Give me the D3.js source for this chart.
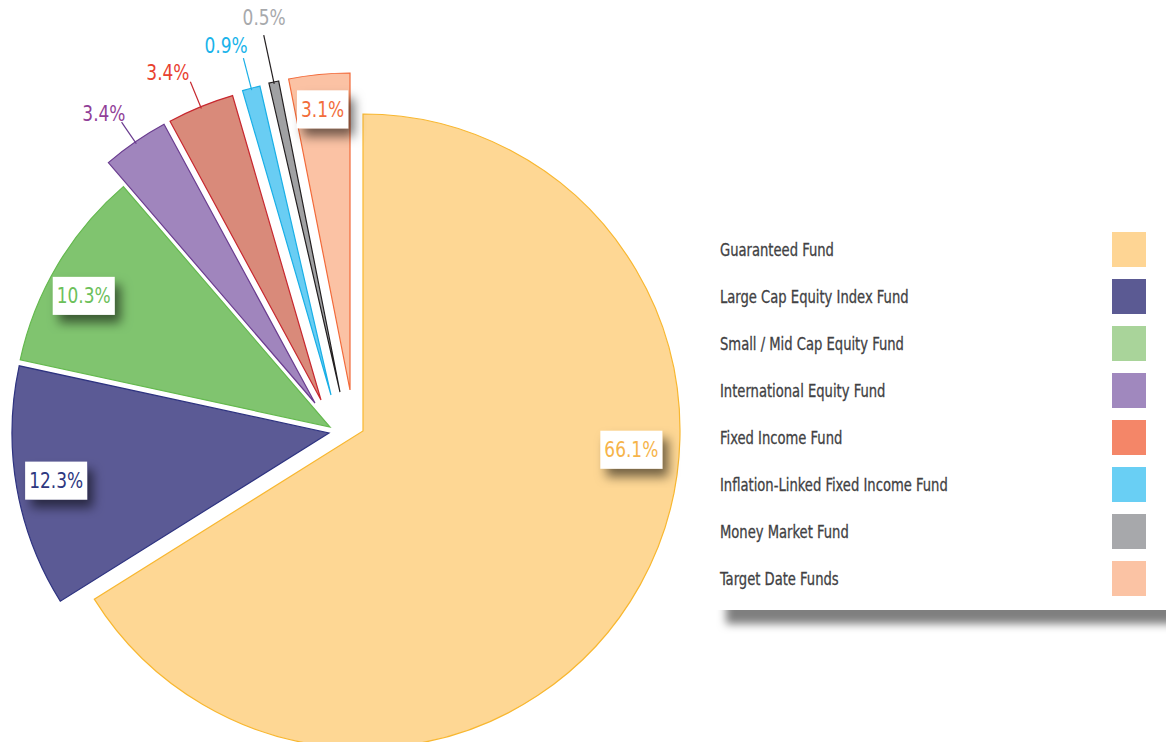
<!DOCTYPE html>
<html>
<head>
<meta charset="utf-8">
<script src="https://cdn.jsdelivr.net/npm/d3@7"></script>
<style>
  html, body { margin: 0; padding: 0; background: #ffffff; }
  svg { display: block; font-family: 'Liberation Sans Narrow', 'Arial Narrow', 'DejaVu Sans Condensed', sans-serif; }
</style>
</head>
<body>
<svg id="chart" width="1166" height="742"></svg>
<script>
// Fund names and their share of assets (%)
const funds = [
  "Guaranteed Fund",
  "Large Cap Equity Index Fund",
  "Small / Mid Cap Equity Fund",
  "International Equity Fund",
  "Fixed Income Fund",
  "Inflation-Linked Fixed Income Fund",
  "Money Market Fund",
  "Target Date Funds"
];
const shares = [66.1, 12.3, 10.3, 3.4, 3.4, 0.9, 0.5, 3.1];

// Colours
const sliceFill   = ["#fed794", "#5b5a95", "#80c46f", "#a085bd", "#d98a7a", "#69cdf3", "#a0a1a3", "#fbc2a4"];
const sliceStroke = ["#f8b730", "#2e3380", "#64b94e", "#6a3c8f", "#c7282f", "#1aafe6", "#231f20", "#f26a3a"];
const labelColor  = ["#f6b44a", "#2e3780", "#6cc05a", "#913f98", "#e8412f", "#19b3ea", "#a7a9ac", "#f26d3b"];
const legendFill  = ["#fed594", "#5b5a93", "#a9d49a", "#a088be", "#f48668", "#69cff4", "#a7a8ab", "#fbc3a4"];

// Layout
const W = 1166, H = 742;
const cx = 363, cy = 431, R = 317;
// per-slice pull-out from the pie centre
const pullOut = [[0, 0], [-34, 2], [-33, -4], [-48, -28], [-42, -31], [-32, -36], [-23, -39], [-13, -41]];
// boxed labels sit inside the slice, the rest outside with a leader line
const boxed     = [true, true, true, false, false, false, false, true];
const labelFrac = [0.395, 0.5, 0.426, 0.5, 0.5, 0.5, 0.5, 0.5];
const labelR    = [269, 277, 279, 358, 361, 365, 382, 282];
const labelNudge = [[0, 0], [0, 0], [0, 0], [-8, 5], [-16, 7], [-13, 4], [4, -1], [0, 0]];
// condensed look for the available sans font
const legendSquash = 0.79, labelSquash = 0.9;

const svg = d3.select("#chart");
const defs = svg.append("defs");

const boxShadow = defs.append("filter").attr("id", "boxShadow")
  .attr("x", "-50%").attr("y", "-50%").attr("width", "200%").attr("height", "200%");
boxShadow.append("feDropShadow").attr("dx", 6).attr("dy", 8).attr("stdDeviation", 5.5)
  .attr("flood-color", "#000").attr("flood-opacity", 0.55);

const panelShadow = defs.append("filter").attr("id", "panelShadow")
  .attr("x", "-10%").attr("y", "-10%").attr("width", "130%").attr("height", "130%");
panelShadow.append("feDropShadow").attr("dx", 10).attr("dy", 14).attr("stdDeviation", 4.5)
  .attr("flood-color", "#000").attr("flood-opacity", 0.5);

// ---- Legend panel ----
const legend = svg.append("g");
legend.append("rect")
  .attr("x", 716).attr("y", 200).attr("width", 480).attr("height", 410)
  .attr("fill", "#fff").attr("filter", "url(#panelShadow)");

const rowY = d3.scalePoint().domain(d3.range(funds.length)).range([249.5, 578.5]);
const rows = legend.selectAll("g.row").data(funds).join("g").attr("class", "row");
rows.append("g")
  .attr("transform", (d, i) => `translate(720,${rowY(i)}) scale(${legendSquash},1)`)
  .append("text")
  .attr("dominant-baseline", "central")
  .attr("font-size", 18.5)
  .attr("fill", "#414143")
  .attr("stroke", "#414143")
  .attr("stroke-width", 0.3)
  .text(d => d);
rows.append("rect")
  .attr("x", 1112).attr("y", (d, i) => rowY(i) - 17.5)
  .attr("width", 34).attr("height", 35)
  .attr("fill", (d, i) => legendFill[i]);

// ---- Pie ----
const pie = d3.pie().sort(null).value(d => d).startAngle(0).endAngle(2 * Math.PI);
const arcs = pie(shares);
const arc = d3.arc().innerRadius(0).outerRadius(R);
const polar = (a, r) => [r * Math.sin(a), -r * Math.cos(a)];

const slices = svg.append("g").selectAll("g.slice").data(arcs).join("g")
  .attr("class", "slice")
  .attr("transform", (d, i) => `translate(${cx + pullOut[i][0]},${cy + pullOut[i][1]})`);

slices.append("path")
  .attr("d", arc)
  .attr("fill", (d, i) => sliceFill[i])
  .attr("stroke", (d, i) => sliceStroke[i])
  .attr("stroke-width", 1.2)
  .attr("stroke-linejoin", "miter");

// leader lines for the outside labels
slices.filter((d, i) => !boxed[i]).append("line")
  .each(function (d) {
    const i = arcs.indexOf(d);
    const a = (d.startAngle + d.endAngle) / 2;
    const p0 = polar(a, R - 2), p1 = polar(a, labelR[i] - 17);
    d3.select(this).attr("x1", p0[0]).attr("y1", p0[1]).attr("x2", p1[0]).attr("y2", p1[1]);
  })
  .attr("stroke", (d) => sliceStroke[arcs.indexOf(d)])
  .attr("stroke-width", 1.2);

// labels
const labels = svg.append("g").selectAll("g.label").data(arcs).join("g")
  .attr("class", "label")
  .attr("transform", (d, i) => {
    const a = d.startAngle + (d.endAngle - d.startAngle) * labelFrac[i];
    const p = polar(a, labelR[i]);
    return `translate(${cx + pullOut[i][0] + p[0] + labelNudge[i][0]},${cy + pullOut[i][1] + p[1] + labelNudge[i][1]})`;
  });

labels.each(function (d, i) {
  const g = d3.select(this);
  const txt = g.append("text")
    .attr("transform", `scale(${labelSquash},1)`)
    .attr("text-anchor", "middle")
    .attr("dominant-baseline", "central")
    .attr("font-size", 21)
    .attr("fill", labelColor[i])
    .text(d3.format(".1f")(shares[i]) + "%");
  if (boxed[i]) {
    const w = txt.node().getBBox().width * labelSquash;
    g.insert("rect", "text")
      .attr("x", -w / 2 - 4).attr("y", -19)
      .attr("width", w + 8).attr("height", 38)
      .attr("fill", "#fff")
      .attr("filter", "url(#boxShadow)");
  }
});
</script>
</body>
</html>
